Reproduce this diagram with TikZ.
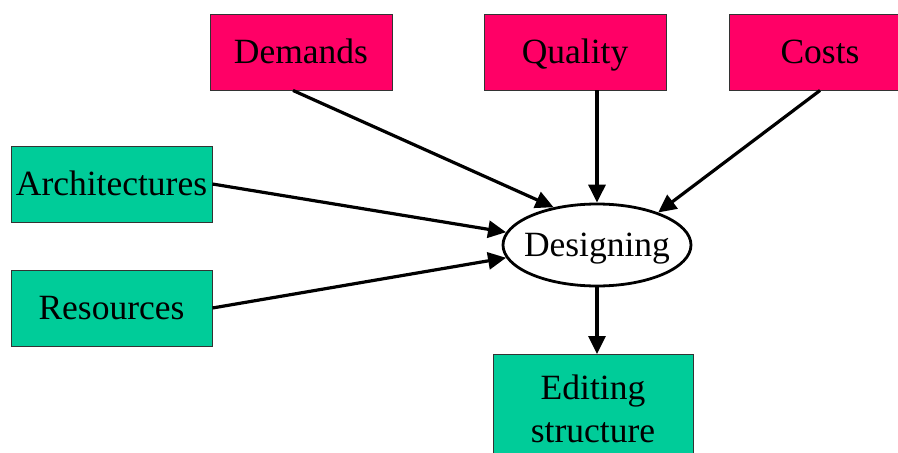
\documentclass[tikz,border=0pt]{standalone}
\usepackage{fontspec}
\setmainfont{Liberation Serif}
\usetikzlibrary{arrows.meta,shapes.geometric}
\definecolor{magentabox}{HTML}{FF0066}
\definecolor{greenbox}{HTML}{00CC99}
\begin{document}
\begin{tikzpicture}[x=1pt,y=-1pt,
  lbl/.style={font=\fontsize{35.5}{40}\selectfont,text height=23.5pt,text depth=0pt},
  redbox/.style={lbl,draw=black!80,line width=0.9pt,fill=magentabox,minimum width=182pt,minimum height=76pt,inner sep=0pt},
  greenbx/.style={lbl,draw=black!80,line width=0.9pt,fill=greenbox,minimum width=201pt,minimum height=76pt,inner sep=0pt},
  conn/.style={line width=3.2pt,-{Triangle[length=18pt,width=17pt]}}]
\useasboundingbox (0,0) rectangle (898,453);
\clip (0,0) rectangle (898,453);
\node[redbox] (dem) at (301,52) {Demands};
\node[redbox] (qua) at (575,52) {Quality};
\node[redbox] (cos) at (820,52) {Costs};
\node[greenbx] (arc) at (111.5,184) {Architectures};
\node[greenbx] (res) at (111.5,308) {Resources};
\node[draw,line width=2.8pt,ellipse,minimum width=188pt,minimum height=82pt,inner sep=0pt] (des) at (597,245) {};
\node[lbl] (destext) at (des.center) {Designing};
\node[draw=black!80,line width=0.9pt,fill=greenbox,minimum width=200pt,minimum height=108pt,inner sep=0pt,anchor=north,align=center,font=\fontsize{35.5}{43}\selectfont] (edi) at (593,354) {Editing\\structure};
\draw[conn] ([xshift=-8pt]dem.south) -- (des.139);
\draw[conn] (qua.south -| des.north) -- (des.north);
\draw[conn] (cos.south) -- (des.28);
\draw[conn] (arc.east) -- (des.172);
\draw[conn] (res.east) -- (des.188);
\draw[conn] (des.south) -- (edi.north -| des.south);
\end{tikzpicture}
\end{document}
